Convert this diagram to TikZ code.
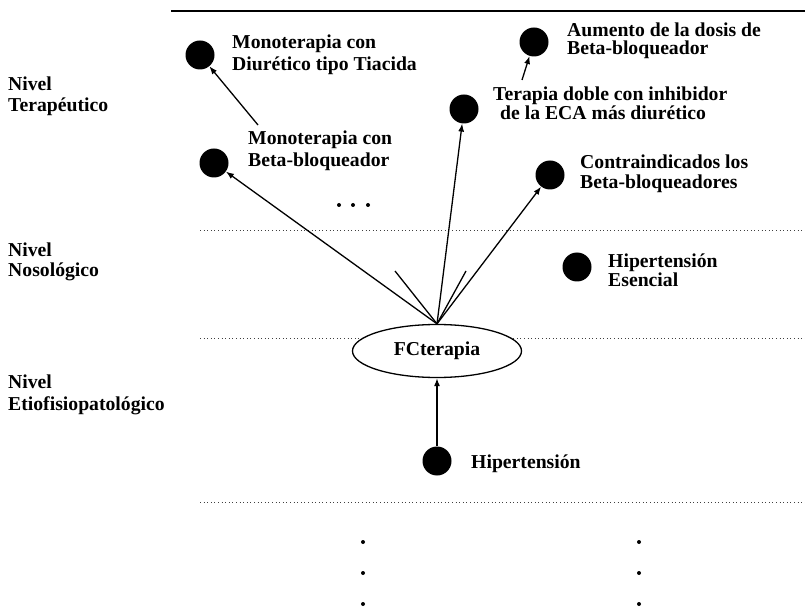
\documentclass[tikz,border=0pt]{standalone}
\usepackage{fontspec}
\setmainfont{Liberation Serif}
\usetikzlibrary{arrows.meta,shapes.geometric}
\begin{document}
\begin{tikzpicture}[x=1pt,y=-1pt,
  dot/.style={circle,fill=black,inner sep=0pt,minimum size=29pt},
  smalldot/.style={circle,fill=black,inner sep=0pt,minimum size=4pt},
  lbl/.style={anchor=base west,inner sep=0pt,font=\bfseries\fontsize{19.7}{21}\selectfont},
  rule/.style={line width=0.9pt,draw=black!75,dash pattern=on 1pt off 2.6pt},
  link/.style={line width=1.3pt,-{Latex[length=8pt,width=6pt]}},
  stub/.style={line width=1.3pt},
  hub/.style={ellipse,draw,line width=1.3pt,fill=white,minimum width=169pt,minimum height=53pt,inner sep=0pt,font=\bfseries\fontsize{19.7}{21}\selectfont}
]
\fill[white] (0,0) rectangle (805,609);
\useasboundingbox (0,0) rectangle (805,609);

% level separators
\coordinate (top0) at (171,11);
\coordinate (top1) at (805,11);
\draw[line width=2pt] (top0) -- (top1);
\coordinate (sepA0) at (200,230);
\coordinate (sepA1) at (805,230);
\coordinate (sepB0) at (200,338);
\coordinate (sepB1) at (805,338);
\coordinate (sepC0) at (200,502);
\coordinate (sepC1) at (805,502);
\draw[rule] (sepA0) -- (sepA1);
\draw[rule] (sepB0) -- (sepB1);
\draw[rule] (sepC0) -- (sepC1);

% level names
\node[lbl] (lvT1) at (8,91) {Nivel};
\node[lbl] (lvT2) at (8,112) {Terapéutico};
\node[lbl] (lvN1) at (8,257) {Nivel};
\node[lbl] (lvN2) at (8,277) {Nosológico};
\node[lbl] (lvE1) at (8,388) {Nivel};
\node[lbl] (lvE2) at (8,410) {Etiofisiopatológico};

% therapeutic level
\node[dot] (d1) at (200,55) {};
\node[lbl] (t1a) at (232,49) {Monoterapia con};
\node[lbl] (t1b) at (232,71) {Diurético tipo Tiacida};

\node[dot] (d2) at (534,42) {};
\node[lbl] (t2a) at (567,37) {Aumento de la dosis de};
\node[lbl] (t2b) at (567,55) {Beta-bloqueador};

\node[dot] (d3) at (464,109) {};
\node[lbl] (t3a) at (493,101) {Terapia doble con inhibidor};
\node[lbl] (t3b) at (500,120) {de la ECA más diurético};

\node[dot] (d4) at (214,163) {};
\node[lbl] (t4a) at (248,145) {Monoterapia con};
\node[lbl] (t4b) at (248,167) {Beta-bloqueador};

\node[dot] (d5) at (550,175) {};
\node[lbl] (t5a) at (580,169) {Contraindicados los};
\node[lbl] (t5b) at (580,189) {Beta-bloqueadores};

\node[smalldot] (e1) at (339,205) {};
\node[smalldot] (e2) at (353,205) {};
\node[smalldot] (e3) at (368,205) {};

% nosological level
\node[dot] (d6) at (577,267) {};
\node[lbl] (t6a) at (608,268) {Hipertensión};
\node[lbl] (t6b) at (608,287) {Esencial};

% etiophysiopathological level
\node[hub] (fc) at (437,351) {FCterapia};
\node[dot] (dh) at (437,461) {};
\node[lbl] (th) at (471,468) {Hipertensión};

% connectors
\coordinate (tail1) at (258,125);
\coordinate (tail2) at (522,80);
\coordinate (stubL) at (395,271);
\coordinate (stubR) at (466,271);
\draw[link] (tail1) -- (d1);
\draw[link] (tail2) -- (d2);
\draw[link] (fc.north) -- (d4);
\draw[link] (fc.north) -- (d3);
\draw[link] (fc.north) -- (d5);
\draw[stub] (fc.north) -- (stubL);
\draw[stub] (fc.north) -- (stubR);
\draw[link] (dh) -- (fc);

% continuation marks
\node[smalldot] (v1) at (363,542) {};
\node[smalldot] (v2) at (363,573) {};
\node[smalldot] (v3) at (363,604) {};
\node[smalldot] (w1) at (639,542) {};
\node[smalldot] (w2) at (639,573) {};
\node[smalldot] (w3) at (639,604) {};
\end{tikzpicture}
\end{document}
